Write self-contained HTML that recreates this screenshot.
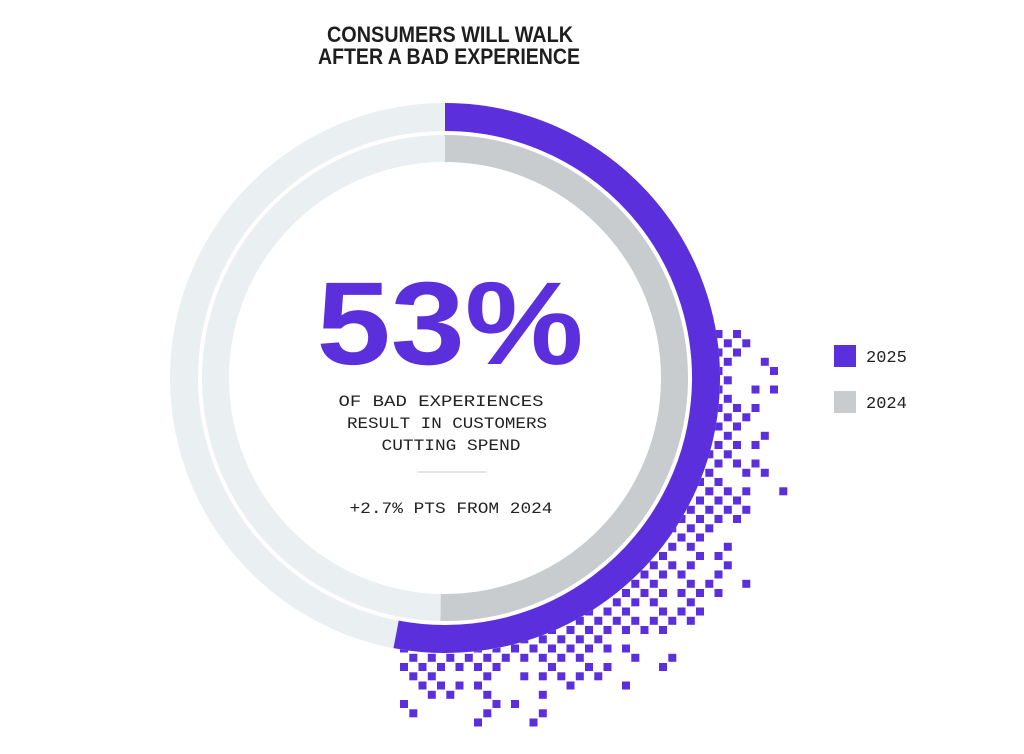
<!DOCTYPE html>
<html><head><meta charset="utf-8"><style>
html,body{margin:0;padding:0;background:#fff;}
svg{display:block;}
</style></head><body>
<svg id="chart" width="1024" height="754" viewBox="0 0 1024 754" xmlns="http://www.w3.org/2000/svg">
  <text x="450" y="42" text-anchor="middle" font-family="Liberation Sans, sans-serif" font-weight="bold" font-size="22" fill="#1e1e1e" textLength="246" lengthAdjust="spacingAndGlyphs">CONSUMERS WILL WALK</text>
  <text x="449" y="64" text-anchor="middle" font-family="Liberation Sans, sans-serif" font-weight="bold" font-size="22" fill="#1e1e1e" textLength="262" lengthAdjust="spacingAndGlyphs">AFTER A BAD EXPERIENCE</text>
  <g id="pixels"></g>
  <g id="rings"></g>
  <text id="bigval" x="450" y="364" text-anchor="middle" font-family="Liberation Sans, sans-serif" font-weight="bold" font-size="118" fill="#5b2fdc" textLength="267" lengthAdjust="spacingAndGlyphs">53%</text>
  <g font-family="Liberation Mono, monospace" font-size="16" fill="#222" text-anchor="middle">
    <text x="441" y="406" textLength="205" lengthAdjust="spacingAndGlyphs">OF BAD EXPERIENCES</text>
    <text x="447" y="428" textLength="200" lengthAdjust="spacingAndGlyphs">RESULT IN CUSTOMERS</text>
    <text x="451" y="450" textLength="139" lengthAdjust="spacingAndGlyphs">CUTTING SPEND</text>
  </g>
  <line x1="418" y1="472" x2="486" y2="472" stroke="#c8c8c8" stroke-width="1"/>
  <text id="delta" x="451" y="513" text-anchor="middle" font-family="Liberation Mono, monospace" font-size="16" fill="#222" textLength="203" lengthAdjust="spacingAndGlyphs">+2.7% PTS FROM 2024</text>
  <g>
    <rect x="834" y="345" width="22" height="22" fill="#5b2fdc"/>
    <text x="866" y="362" font-family="Liberation Mono, monospace" font-size="17" fill="#222">2025</text>
    <rect x="834" y="391" width="22" height="22" fill="#c9cccf"/>
    <text x="866" y="408" font-family="Liberation Mono, monospace" font-size="17" fill="#222">2024</text>
  </g>
</svg>
<script>
const years = ['2025', '2024'];
const values = [53, 50.3];
const seriesColors = ['#5b2fdc', '#c9cccf'];

const NS = 'http://www.w3.org/2000/svg';
const cx = 445, cy = 378;
const rings = [{r: 261, w: 28}, {r: 229.5, w: 27}];
const g = document.getElementById('rings');
function pt(r, frac) {
  const a = frac * 2 * Math.PI;
  return [cx + r * Math.sin(a), cy - r * Math.cos(a)];
}
function arc(r, f0, f1) {
  const p0 = pt(r, f0), p1 = pt(r, f1);
  const large = (f1 - f0) > 0.5 ? 1 : 0;
  return 'M' + p0[0] + ' ' + p0[1] + ' A' + r + ' ' + r + ' 0 ' + large + ' 1 ' + p1[0] + ' ' + p1[1];
}
values.forEach(function (v, i) {
  const ring = rings[i];
  const bg = document.createElementNS(NS, 'circle');
  
  
  bg.setAttribute('cx', cx); bg.setAttribute('cy', cy); bg.setAttribute('r', ring.r);
  bg.setAttribute('fill', 'none'); bg.setAttribute('stroke', '#eaeff2'); bg.setAttribute('stroke-width', ring.w);
  g.appendChild(bg);
  const p = document.createElementNS(NS, 'path');
  
  
  p.setAttribute('d', arc(ring.r, 0, Math.min(v, 99.99) / 100));
  p.setAttribute('fill', 'none'); p.setAttribute('stroke', seriesColors[i]); p.setAttribute('stroke-width', ring.w);
  g.appendChild(p);
});
document.getElementById('bigval').textContent = Math.round(values[0]) + '%';

// decorative pixel dither around the 2025 arc
const pg = document.getElementById('pixels');
function hash(a, b) { let h = (a * 374761393 + b * 668265263) | 0; h = (h ^ (h >>> 13)) * 1274126177; h = h ^ (h >>> 16); return ((h >>> 0) % 1000) / 1000; }
const pitch = 9.25, outerR = 275;
for (let i = 0; i < 70; i++) {
  for (let j = 0; j < 70; j++) {
    if ((i + j) % 2) continue;
    const x = 400 + i * pitch, y = 330 + j * pitch;
    const dx = x + 4 - cx, dy = y + 4 - cy;
    const d = Math.sqrt(dx * dx + dy * dy) - outerR;
    if (d < -3 || d > 95) continue;
    let ang = Math.atan2(dx, -dy) / (2 * Math.PI); if (ang < 0) ang += 1;
    const endF = values[0] / 100;
    if (ang < 0.22 || ang > endF + 0.005) continue;
    let reach = 35 + 65 * Math.sin(Math.PI * Math.min(1, Math.max(0, (ang - 0.2) / 0.36)));
    if (ang > 0.48) reach = Math.max(reach, 80);
    const prob = 1 - d / reach;
    if (hash(i, j) > prob * 1.15) continue;
    const r = document.createElementNS(NS, 'rect');
    
    
    r.setAttribute('x', x.toFixed(1)); r.setAttribute('y', y.toFixed(1));
    r.setAttribute('width', 8); r.setAttribute('height', 8);
    r.setAttribute('fill', '#5b2fdc');
    pg.appendChild(r);
  }
}
</script>
</body></html>
